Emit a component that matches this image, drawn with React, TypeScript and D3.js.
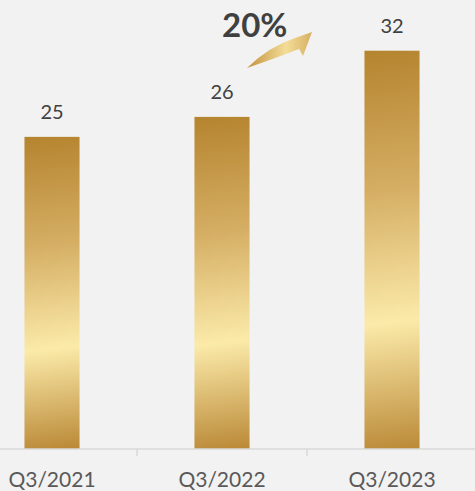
import { useMemo } from "react";
import * as d3 from "d3";

const WIDTH = 475;
const HEIGHT = 491;

const categories = ["Q3/2021", "Q3/2022", "Q3/2023"];
const values = [25, 26.6, 31.9];
const valueLabels = ["25", "26", "32"];
const growthLabel = "20%";

const FONT = "Lato, 'Open Sans', sans-serif";

export default function App() {
  const baseline = 449;

  const x = useMemo(
    () => d3.scaleBand().domain(categories).range([-33, 477]).padding(0),
    []
  );
  const y = useMemo(() => d3.scaleLinear().domain([0, 35]).range([baseline, 12]), []);

  const barW = x.step() * 0.324;
  const boundaries = categories.slice(1).map((c) => x(c) as number);

  const bars = categories.map((c, i) => {
    const cx = (x(c) as number) + x.bandwidth() / 2;
    const top = y(values[i]);
    return { c, i, cx, left: cx - barW / 2, top, h: baseline - top };
  });

  return (
    <svg
      width={WIDTH}
      height={HEIGHT}
      style={{ position: "absolute", left: 0, top: 0, background: "#f2f2f2" }}
    >
      <defs>
        {bars.map((b) => (
          <linearGradient
            key={b.c}
            id={`barGrad${b.i}`}
            gradientUnits="userSpaceOnUse"
            x1={b.left}
            y1={b.top}
            x2={b.left + b.h * 0.12}
            y2={b.top + b.h}
          >
            <stop offset="0" stopColor="#b5842f" />
            <stop offset="0.35" stopColor="#d5ae64" />
            <stop offset="0.68" stopColor="#fbeaa9" />
            <stop offset="1" stopColor="#bb8a38" />
          </linearGradient>
        ))}
        <linearGradient id="arrowGrad" x1="0" y1="0" x2="1" y2="0">
          <stop offset="0" stopColor="#c2923e" />
          <stop offset="0.6" stopColor="#f4dd98" />
          <stop offset="1" stopColor="#d6b062" />
        </linearGradient>
      </defs>

      <rect width={WIDTH} height={HEIGHT} fill="#f2f2f2" />

      {bars.map((b) => (
        <g key={b.c}>
          <rect x={b.left} y={b.top} width={barW} height={b.h} fill={`url(#barGrad${b.i})`} />
          <text
            x={b.cx}
            y={b.top - 18}
            textAnchor="middle"
            fontFamily={FONT}
            fontSize={20}
            fill="#404040"
          >
            {valueLabels[b.i]}
          </text>
          <text
            x={b.cx}
            y={487}
            textAnchor="middle"
            fontFamily={FONT}
            fontSize={21}
            fill="#595959"
          >
            {b.c}
          </text>
        </g>
      ))}

      <line x1={0} x2={WIDTH} y1={baseline} y2={baseline} stroke="#d9d9d9" strokeWidth={1.5} />
      {boundaries.map((bx) => (
        <line key={bx} x1={bx} x2={bx} y1={baseline} y2={baseline + 7} stroke="#d9d9d9" strokeWidth={1.5} />
      ))}

      <text
        x={222}
        y={37}
        fontFamily={FONT}
        fontWeight="bold"
        fontSize={33}
        fill="#404040"
      >
        {growthLabel}
      </text>
      <path
        d="M247,68 Q268,47 295,38 L312,32 L303,56 L299,49 Q276,58 247,68 Z"
        fill="url(#arrowGrad)"
      />
    </svg>
  );
}
